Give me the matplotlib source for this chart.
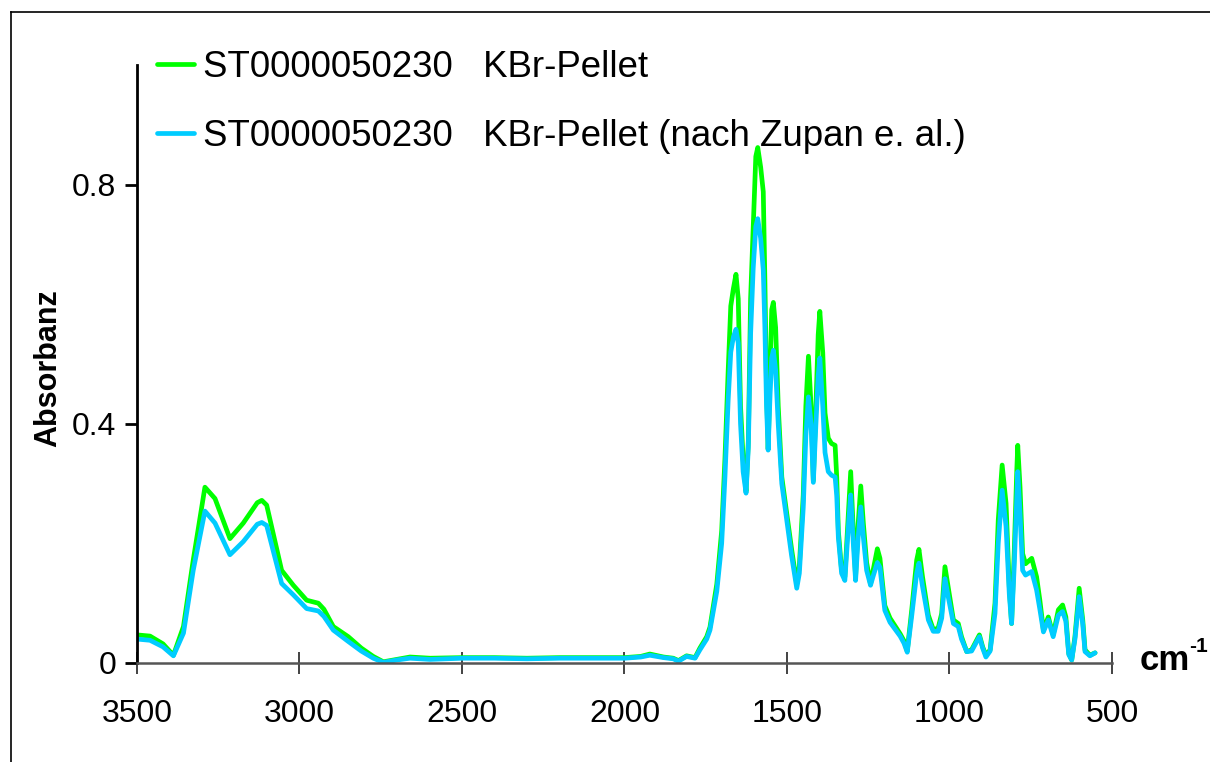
import matplotlib
matplotlib.use("Agg")
import matplotlib.pyplot as plt
from matplotlib.lines import Line2D

plt.rcParams["font.family"] = ["Liberation Sans", "DejaVu Sans"]

wavenumber = [
    3500, 3460, 3420, 3388, 3357, 3327, 3291, 3260, 3214, 3173, 3130, 3116, 3101,
    3055, 3019, 2978, 2942, 2925, 2896, 2850, 2810, 2773, 2742, 2701, 2660, 2598,
    2500, 2400, 2300, 2200, 2100, 2000, 1950, 1922, 1880, 1850, 1834, 1809, 1783,
    1768, 1747, 1737, 1716, 1701, 1691, 1681, 1673, 1665, 1657, 1650, 1643, 1635,
    1626, 1619, 1612, 1604, 1596, 1590, 1581, 1573, 1568, 1563, 1558, 1552, 1547,
    1542, 1535, 1527, 1516, 1501, 1486, 1470, 1462, 1450, 1442, 1434, 1426, 1419,
    1411, 1404, 1399, 1390, 1383, 1373, 1363, 1352, 1347, 1342, 1332, 1322, 1311,
    1304, 1296, 1289, 1281, 1273, 1265, 1255, 1243, 1235, 1222, 1214, 1199, 1183,
    1152, 1140, 1130, 1116, 1101, 1094, 1083, 1065, 1050, 1035, 1024, 1014, 1004,
    988, 973, 963, 947, 932, 908, 898, 888, 875, 860, 850, 838, 826, 816, 809,
    801, 793, 790, 783, 775, 766, 747, 732, 722, 711, 696, 681, 665, 652, 642,
    633, 624, 614, 601, 590, 583, 568, 552,
]

absorbance_kbr = [
    0.047, 0.045, 0.032, 0.013, 0.061, 0.172, 0.294, 0.275, 0.208, 0.234, 0.268, 0.272, 0.264,
    0.155, 0.130, 0.105, 0.100, 0.090, 0.061, 0.044, 0.025, 0.011, 0.002, 0.006, 0.010, 0.008,
    0.009, 0.009, 0.008, 0.009, 0.009, 0.009, 0.011, 0.015, 0.010, 0.008, 0.004, 0.012, 0.009,
    0.025, 0.044, 0.060, 0.132, 0.221, 0.341, 0.489, 0.597, 0.626, 0.650, 0.609, 0.430, 0.341,
    0.287, 0.371, 0.609, 0.728, 0.847, 0.862, 0.829, 0.788, 0.639, 0.460, 0.358, 0.489, 0.591,
    0.603, 0.561, 0.430, 0.311, 0.251, 0.191, 0.132, 0.162, 0.281, 0.430, 0.513, 0.430, 0.305,
    0.430, 0.549, 0.588, 0.519, 0.418, 0.376, 0.367, 0.364, 0.311, 0.221, 0.155, 0.144, 0.251,
    0.320, 0.221, 0.144, 0.233, 0.296, 0.233, 0.168, 0.132, 0.155, 0.191, 0.175, 0.096, 0.075,
    0.049, 0.037, 0.020, 0.090, 0.172, 0.190, 0.144, 0.080, 0.056, 0.058, 0.083, 0.161, 0.127,
    0.072, 0.066, 0.044, 0.019, 0.022, 0.047, 0.027, 0.013, 0.022, 0.100, 0.239, 0.331, 0.267, 0.127, 0.066,
    0.183, 0.322, 0.364, 0.294, 0.183, 0.166, 0.175, 0.144, 0.105, 0.055, 0.077, 0.047, 0.089, 0.097, 0.077,
    0.016, 0.005, 0.044, 0.125, 0.072, 0.022, 0.013, 0.017,
]

absorbance_zupan = [
    0.040, 0.038, 0.027, 0.012, 0.050, 0.155, 0.254, 0.234, 0.181, 0.203, 0.232, 0.235, 0.230,
    0.133, 0.114, 0.091, 0.087, 0.078, 0.055, 0.036, 0.020, 0.008, 0.001, 0.005, 0.008, 0.006,
    0.008, 0.008, 0.007, 0.008, 0.008, 0.008, 0.010, 0.013, 0.009, 0.007, 0.003, 0.011, 0.008,
    0.022, 0.040, 0.055, 0.120, 0.200, 0.310, 0.440, 0.520, 0.545, 0.558, 0.535, 0.400, 0.320,
    0.284, 0.360, 0.550, 0.660, 0.730, 0.743, 0.710, 0.657, 0.560, 0.430, 0.356, 0.450, 0.510,
    0.523, 0.490, 0.400, 0.300, 0.240, 0.180, 0.125, 0.150, 0.260, 0.380, 0.445, 0.400, 0.302,
    0.400, 0.480, 0.510, 0.430, 0.352, 0.320, 0.314, 0.311, 0.280, 0.210, 0.150, 0.138, 0.230,
    0.281, 0.200, 0.138, 0.210, 0.261, 0.210, 0.155, 0.130, 0.145, 0.168, 0.160, 0.088, 0.068,
    0.045, 0.033, 0.018, 0.080, 0.150, 0.167, 0.128, 0.072, 0.053, 0.053, 0.075, 0.141, 0.111,
    0.066, 0.061, 0.040, 0.019, 0.020, 0.044, 0.025, 0.010, 0.020, 0.083, 0.200, 0.289, 0.228, 0.115, 0.066,
    0.160, 0.280, 0.320, 0.250, 0.155, 0.147, 0.153, 0.122, 0.090, 0.052, 0.072, 0.044, 0.080, 0.086, 0.070,
    0.014, 0.005, 0.040, 0.111, 0.065, 0.019, 0.012, 0.017,
]

labels = [
    "ST0000050230   KBr-Pellet",
    "ST0000050230   KBr-Pellet (nach Zupan e. al.)",
]
colors = ["#00FF00", "#00CCFF"]
x_ticks = [3500, 3000, 2500, 2000, 1500, 1000, 500]
y_ticks = [0, 0.4, 0.8]
y_tick_labels = ["0", "0.4", "0.8"]

W, H = 1210, 762
fig = plt.figure(figsize=(W / 100, H / 100), dpi=100)
ax = fig.add_axes([137 / W, 1 - 663 / H, (1112 - 137) / W, (663 - 65) / H])

for values, label, color in zip([absorbance_kbr, absorbance_zupan], labels, colors):
    ax.plot(wavenumber, values, color=color, lw=3.4, label=label,
            solid_joinstyle="round", solid_capstyle="round")

ax.set_xlim(3500, 500)
ax.set_ylim(0, 1.0)
ax.set_xticks(x_ticks)
ax.set_xticklabels([str(t) for t in x_ticks])
ax.set_yticks(y_ticks)
ax.set_yticklabels(y_tick_labels)

for side in ["top", "right"]:
    ax.spines[side].set_visible(False)
ax.spines["left"].set_color("black")
ax.spines["left"].set_linewidth(2.0)
ax.spines["bottom"].set_color("#555555")
ax.spines["bottom"].set_linewidth(1.8)

ax.tick_params(axis="x", direction="inout", length=16, width=1.2, color="#222222",
               labelsize=23, pad=18)
ax.tick_params(axis="y", direction="out", length=9, width=2.0, color="black",
               labelsize=23, pad=6)

ax.legend(loc="upper left", bbox_to_anchor=(157 / W, 1 - 50 / H),
          bbox_transform=fig.transFigure, frameon=False, fontsize=26.4,
          handlelength=1.0, handletextpad=0.25, labelspacing=0.93,
          borderpad=0, borderaxespad=0)

fig.text(48 / W, 1 - 368 / H, "Absorbanz", rotation=90, ha="center", va="center",
         fontsize=22, fontweight="bold")
fig.text(1140 / W, 1 - 661 / H, "cm", ha="left", va="center",
         fontsize=25, fontweight="bold")
fig.text(1189 / W, 1 - 647 / H, "-1", ha="left", va="center",
         fontsize=15, fontweight="bold")

# Rahmen links und oben
fig.add_artist(Line2D([11 / W, 11 / W], [0, 1 - 12 / H], color="black", lw=1.2,
                      transform=fig.transFigure))
fig.add_artist(Line2D([11 / W, 1], [1 - 12 / H, 1 - 12 / H], color="black", lw=1.2,
                      transform=fig.transFigure))

fig.savefig("out.png", dpi=100)
